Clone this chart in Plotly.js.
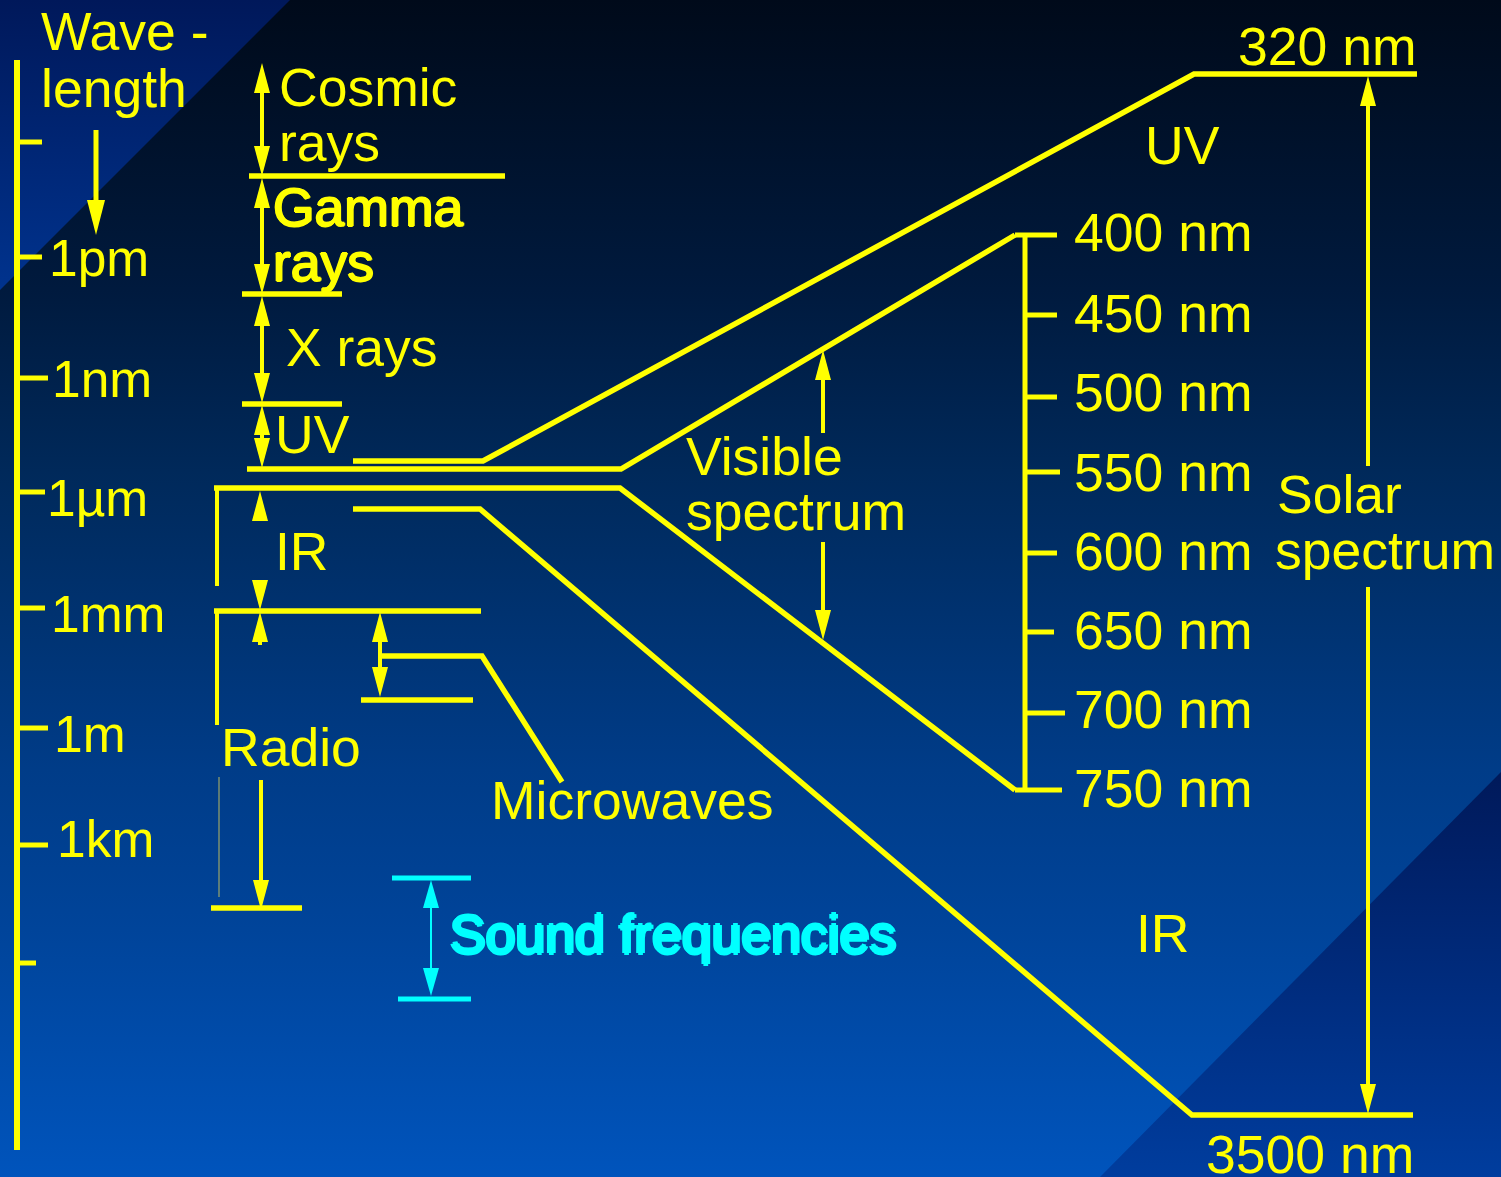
<!DOCTYPE html>
<html>
<head>
<meta charset="utf-8">
<script src="https://cdn.plot.ly/plotly-3.0.1.min.js"></script>
<style>
html,body{margin:0;padding:0;background:#000;}
#wrap{position:relative;width:1501px;height:1177px;overflow:hidden;
 background:linear-gradient(to bottom,#000a1a 0%,#001a3e 24.6%,#00295a 40%,#003c88 65.4%,#00449a 79%,#0054bc 100%);}
#tl{position:absolute;left:0;top:0;width:290px;height:290px;clip-path:polygon(0 0,100% 0,0 100%);
 background:linear-gradient(to bottom,#00185a,#00338e);}
#br{position:absolute;left:1100px;top:772px;width:401px;height:405px;clip-path:polygon(100% 0,100% 100%,0 100%);
 background:linear-gradient(to bottom,#00195a,#003d9e);}
#chart{position:absolute;left:0;top:0;width:1501px;height:1177px;}
</style>
</head>
<body>
<div id="wrap"><div id="tl"></div><div id="br"></div><div id="chart"></div></div>
<script>
// ---------------- DATA ----------------
// Left wavelength scale
const scaleAxis      = [[17, 60], [17, 1150]];
const scaleTickY     = [142, 257, 378, 492, 608, 728, 845, 963];
const scaleTickEnd   = [42, 42, 48, 45, 45, 48, 48, 36];
const scaleLabels    = ['1pm', '1nm', '1µm', '1mm', '1m', '1km'];
const scaleLabelX    = [48, 51, 46, 50, 53, 56];
const scaleLabelY    = [258, 379, 498, 614, 734, 839];

// Band boundary lines (polylines)
const lineCosmicGamma = [[249, 176], [505, 176]];
const lineGammaX      = [[242, 294], [342, 294]];
const lineXUV         = [[242, 404], [342, 404]];
const lineUVVisible   = [[247, 469], [621, 469], [1015, 235]];
const lineSolarTop    = [[353, 461], [483, 461], [1194, 74], [1417, 74]];
const lineVisibleIR   = [[214, 488], [620, 488], [1015, 790]];
const lineSolarBottom = [[353, 509], [480, 509], [1192, 1115], [1413, 1115]];
const lineIRRadio     = [[214, 611], [481, 611]];
const lineRadioEnd    = [[211, 908], [302, 908]];
const lineMicroTop    = [[380, 656], [482, 656], [562, 782]];
const lineMicroBottom = [[361, 700], [473, 700]];
const bracketIR       = [[217, 488], [217, 586]];
const bracketRadio    = [[217, 611], [217, 725]];
const bracketRadioLow = [[219, 777], [219, 897]];
const soundTop        = [[392, 878], [471, 878]];
const soundBottom     = [[398, 999], [471, 999]];

// Visible spectrum scale
const visibleAxis    = [[1025, 235], [1025, 790]];
const visibleTickY   = [235, 315, 397, 472, 553, 632, 713, 790];
const visibleTickBeg = [1015, 1025, 1025, 1025, 1025, 1025, 1025, 1015];
const visibleTickEnd = [1057, 1057, 1057, 1060, 1057, 1054, 1065, 1062];
const visibleLabels  = ['400 nm', '450 nm', '500 nm', '550 nm', '600 nm', '650 nm', '700 nm', '750 nm'];
const visibleLabelY  = [232, 313, 392, 472, 551, 630, 709, 788];

// Arrows: [x, yStart, yEnd, headAtStart, headAtEnd]
const arrowsMain = [
  [262, 63, 176, 1, 1],
  [262, 178, 294, 1, 1],
  [262, 296, 403, 1, 1],
  [262, 405, 468, 1, 1],
  [260, 491, 521, 1, 0],
  [260, 580, 610, 0, 1],
  [260, 612, 645, 1, 0],
  [261, 780, 910, 0, 1],
  [380, 612, 697, 1, 1],
  [823, 350, 433, 1, 0],
  [823, 542, 640, 0, 1],
  [1368, 76, 466, 1, 0],
  [1368, 587, 1114, 0, 1]
];
const arrowWave  = [96, 130, 235, 0, 1];
const arrowSound = [431, 880, 996, 1, 1];

// Text labels: [text, x, y]
const bandLabels = [
  ['Wave -', 40, 31], ['length', 40, 88],
  ['Cosmic', 278, 87], ['rays', 278, 142],
  ['X rays', 285, 347], ['UV', 274, 434],
  ['IR', 274, 551], ['Radio', 220, 747],
  ['Microwaves', 490, 800],
  ['Visible', 685, 456], ['spectrum', 685, 511],
  ['UV', 1144, 145], ['IR', 1135, 933],
  ['Solar', 1276, 494], ['spectrum', 1274, 550],
  ['320 nm', 1237, 46], ['3500 nm', 1205, 1154]
];
const gammaLabels = [['Gamma', 272, 207], ['rays', 272, 262]];
const soundLabel  = ['Sound frequencies', 449, 934];

// ---------------- DRAWING ----------------
const YEL = '#ffff00', CYAN = '#00ffff';
const FONT = 'Liberation Sans, Arial, Helvetica, sans-serif';
const FS = 53.5;
const traces = [];
function poly(pts, color, width) {
  traces.push({type: 'scatter', mode: 'lines', x: pts.map(p => p[0]), y: pts.map(p => p[1]),
    line: {color: color, width: width}, hoverinfo: 'skip', showlegend: false});
}
function head(x, tip, dir, len, hw, color) {
  const base = tip - dir * len;
  traces.push({type: 'scatter', mode: 'lines', x: [x - hw, x, x + hw, x - hw], y: [base, tip, base, base],
    fill: 'toself', fillcolor: color, line: {width: 0, color: color}, hoverinfo: 'skip', showlegend: false});
}
function arrow(a, color, width, len, hw) {
  const [x, y0, y1, hs, he] = a;
  const s0 = hs ? y0 + len * 0.9 : y0;
  const s1 = he ? y1 - len * 0.9 : y1;
  if (s1 > s0) poly([[x, s0], [x, s1]], color, width);
  if (hs) head(x, y0, -1, len, hw, color);
  if (he) head(x, y1, 1, len, hw, color);
}

poly(scaleAxis, YEL, 6);
scaleTickY.forEach((y, i) => poly([[17, y], [scaleTickEnd[i], y]], YEL, 5));

[lineCosmicGamma, lineGammaX, lineXUV, lineUVVisible, lineSolarTop, lineVisibleIR,
 lineSolarBottom, lineIRRadio, lineRadioEnd, lineMicroTop, lineMicroBottom].forEach(p => poly(p, YEL, 5.5));
poly(bracketIR, YEL, 4);
poly(bracketRadio, YEL, 4);
poly(bracketRadioLow, '#b8b860', 1);
poly(soundTop, CYAN, 5);
poly(soundBottom, CYAN, 5);

poly(visibleAxis, YEL, 5);
visibleTickY.forEach((y, i) => poly([[visibleTickBeg[i], y], [visibleTickEnd[i], y]], YEL, 5));

arrowsMain.forEach(a => arrow(a, YEL, 4, 30, 8));
arrow(arrowWave, YEL, 5, 35, 9);
arrow(arrowSound, CYAN, 2, 28, 8);

function label(t, x, y, extra) {
  return Object.assign({text: t, x: x, y: y, xref: 'x', yref: 'y', xanchor: 'left', yanchor: 'middle',
    showarrow: false, borderpad: 0, font: {family: FONT, size: FS, color: YEL}}, extra || {});
}
const annotations = [];
scaleLabels.forEach((t, i) => annotations.push(label(t, scaleLabelX[i], scaleLabelY[i], {font: {family: FONT, size: 51.5, color: YEL}})));
visibleLabels.forEach((t, i) => annotations.push(label(t, 1073, visibleLabelY[i])));
bandLabels.forEach(b => annotations.push(label(b[0], b[1], b[2])));
gammaLabels.forEach(b => annotations.push(label(b[0], b[1], b[2],
  {font: {family: FONT, size: FS, color: YEL, shadow: '1px 0 #ffff00, -1px 0 #ffff00, 0 1px #ffff00, 0 -1px #ffff00'}})));
annotations.push(label(soundLabel[0], soundLabel[1], soundLabel[2],
  {font: {family: FONT, size: FS, color: CYAN, shadow: '2px 0 #00ffff, -2px 0 #00ffff, 0 2px #00ffff, 0 -2px #00ffff'}}));

const layout = {
  width: 1501, height: 1177, margin: {l: 0, r: 0, t: 0, b: 0, pad: 0},
  paper_bgcolor: 'rgba(0,0,0,0)', plot_bgcolor: 'rgba(0,0,0,0)',
  xaxis: {range: [0, 1501], visible: false, fixedrange: true},
  yaxis: {range: [1177, 0], visible: false, fixedrange: true},
  showlegend: false, hovermode: false,
  annotations: annotations
};
Plotly.newPlot('chart', traces, layout, {staticPlot: true, displayModeBar: false});
</script>
</body>
</html>
